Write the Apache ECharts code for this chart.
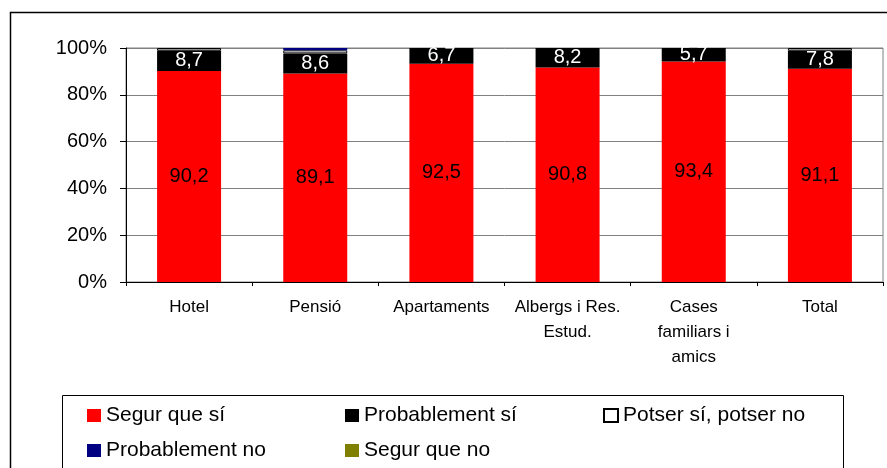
<!DOCTYPE html>
<html>
<head>
<meta charset="utf-8">
<script src="https://cdn.jsdelivr.net/npm/echarts@6/dist/echarts.min.js"></script>
<style>
  html, body { margin: 0; padding: 0; background: #fff; }
  #chart { width: 887px; height: 468px; }
</style>
</head>
<body>
<div id="chart"></div>
<script>
// categories
const categories = ['Hotel', 'Pensió', 'Apartaments', 'Albergs i Res.\nEstud.', 'Cases\nfamiliars i\namics', 'Total']

// series values (%)
const segurQueSi = [90.2, 89.1, 92.5, 90.8, 93.4, 91.1]
const probablementSi = [8.7, 8.6, 6.7, 8.2, 5.7, 7.8]
const potserSi = [1.1, 1.3, null, null, null, 1.1]
const probablementNo = [null, 1.0, null, null, null, null]
const segurQueNo = [null, null, null, null, null, null]

const yTicks = [0, 20, 40, 60, 80, 100]

const font = 'Liberation Sans, Arial, sans-serif'

// 100% stacked: each column is scaled to its own total, labels show the raw value
const allSeries = [segurQueSi, probablementSi, potserSi, probablementNo, segurQueNo]
const totals = categories.map((_, i) => allSeries.reduce((s, arr) => s + (arr[i] || 0), 0))
const toPct = arr => arr.map((v, i) => v == null ? null : { value: v / totals[i] * 100, raw: v })
const comma = p => String(p.data.raw).replace('.', ',')

const chart = echarts.init(document.getElementById('chart'))

chart.setOption({
  animation: false,
  backgroundColor: '#fff',
  textStyle: { fontFamily: font },
  grid: {
    left: 126, right: 4, top: 48, bottom: 186,
    show: true, borderColor: '#808080', borderWidth: 1
  },
  // outer frame + legend box
  graphic: [
    { type: 'rect', shape: { x: 10.5, y: 12.5, width: 900, height: 480 },
      style: { fill: null, stroke: '#000', lineWidth: 1.5 }, silent: true },
    { type: 'rect', shape: { x: 62.5, y: 395.5, width: 781, height: 100 },
      style: { fill: null, stroke: '#000', lineWidth: 1 }, silent: true }
  ],
  legend: {
    left: 87, top: 403, width: 790, padding: 0,
    itemWidth: 14, itemHeight: 13, itemGap: 10, itemTextGap: 5,
    icon: 'rect',
    textStyle: { fontFamily: font, fontSize: 21, color: '#000', width: 229, lineHeight: 25 },
    data: ['Segur que sí', 'Probablement sí', 'Potser sí, potser no', 'Probablement no', 'Segur que no']
  },
  xAxis: {
    type: 'category',
    data: categories,
    axisLine: { lineStyle: { color: '#000', width: 1 } },
    axisTick: { show: true, length: 4, inside: false, lineStyle: { color: '#000' } },
    axisLabel: { interval: 0, color: '#000', fontSize: 17, fontFamily: font, lineHeight: 25, margin: 13 }
  },
  yAxis: {
    type: 'value',
    min: yTicks[0], max: yTicks[yTicks.length - 1], interval: 20,
    axisLine: { show: true, lineStyle: { color: '#000', width: 1 } },
    axisTick: { show: true, length: 6, lineStyle: { color: '#000' } },
    axisLabel: { color: '#000', fontSize: 20, fontFamily: font, margin: 19, formatter: '{value}%' },
    splitLine: { show: true, lineStyle: { color: '#808080', width: 1 } }
  },
  series: [
    {
      name: 'Segur que sí', type: 'bar', stack: 'total', barWidth: 64,
      data: toPct(segurQueSi),
      itemStyle: { color: '#ff0000' },
      label: { show: true, position: 'inside', color: '#000', fontSize: 20, fontFamily: font, formatter: comma }
    },
    {
      name: 'Probablement sí', type: 'bar', stack: 'total',
      data: toPct(probablementSi),
      itemStyle: { color: '#000000' },
      label: { show: true, position: 'inside', color: '#fff', fontSize: 20, fontFamily: font, formatter: comma }
    },
    {
      name: 'Potser sí, potser no', type: 'bar', stack: 'total',
      data: toPct(potserSi),
      itemStyle: { color: '#ffffff', borderColor: '#000', borderWidth: 1 }
    },
    {
      name: 'Probablement no', type: 'bar', stack: 'total',
      data: toPct(probablementNo),
      itemStyle: { color: '#000080' }
    },
    {
      name: 'Segur que no', type: 'bar', stack: 'total',
      data: toPct(segurQueNo),
      itemStyle: { color: '#808000' }
    }
  ]
})
</script>
</body>
</html>
